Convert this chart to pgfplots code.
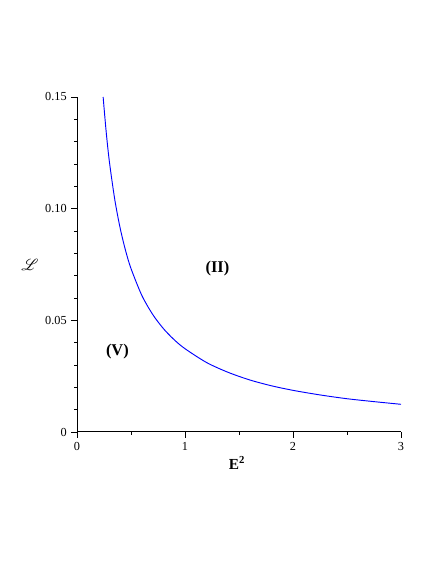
\documentclass[border=0pt]{standalone}
\usepackage{pgfplots}
\pgfplotsset{compat=1.18}
\usepackage{amsmath}
\usepackage{mathrsfs}
\usepackage{fontspec}
\setmainfont{Liberation Serif}
\begin{document}
\begin{tikzpicture}[x=0.75pt,y=0.75pt]
\path[use as bounding box] (0,0) rectangle (436,564);
\begin{axis}[
  at={(57.75pt,99pt)}, anchor=origin,
  scale only axis, width=243pt, height=251.25pt,
  xmin=0, xmax=3, ymin=0, ymax=0.15,
  axis x line*=bottom, axis y line*=left,
  tick align=outside,
  xtick={0,1,2,3}, minor xtick={0.5,1.5,2.5},
  ytick={0,0.05,0.10,0.15}, yticklabels={0,0.05,0.10,0.15},
  minor ytick={0.01,0.02,0.03,0.04,0.06,0.07,0.08,0.09,0.11,0.12,0.13,0.14},
  major tick length=4.2pt, minor tick length=2.2pt,
  tick style={black, line width=0.6pt},
  axis line style={black, line width=0.75pt},
  ticklabel style={font=\fontsize{9.2}{10}\selectfont},
  /pgf/number format/assume math mode=true,
  scaled y ticks=false,
  clip=false,
]
\addplot[blue, line width=0.7pt, smooth] coordinates {
(0.242,0.150) (0.27,0.1345) (0.3,0.121) (0.35,0.1040) (0.4,0.0912)
(0.45,0.0812) (0.5,0.0732) (0.6,0.0612) (0.7,0.0527) (0.8,0.0463)
(0.9,0.0413) (1.0,0.0373) (1.2,0.0311) (1.4,0.0267) (1.6,0.0233)
(1.8,0.0207) (2.0,0.01865) (2.25,0.0166) (2.5,0.0149) (2.75,0.0136) (3.0,0.0124)
};
\node[font=\fontsize{12.3}{14}\selectfont\bfseries] at (axis cs:0.374,0.0361) {(V)};
\node[font=\fontsize{12.3}{14}\selectfont\bfseries] at (axis cs:1.30,0.0733) {(II)};
\node[font=\fontsize{12}{13}\selectfont] at (rel axis cs:-0.145,0.5) {$\boldsymbol{\mathscr{L}}$};
\node[font=\fontsize{11.5}{13}\selectfont\bfseries] at (rel axis cs:0.494,-0.093) {E$^{\mathbf{2}}$};
\end{axis}
\end{tikzpicture}
\end{document}
